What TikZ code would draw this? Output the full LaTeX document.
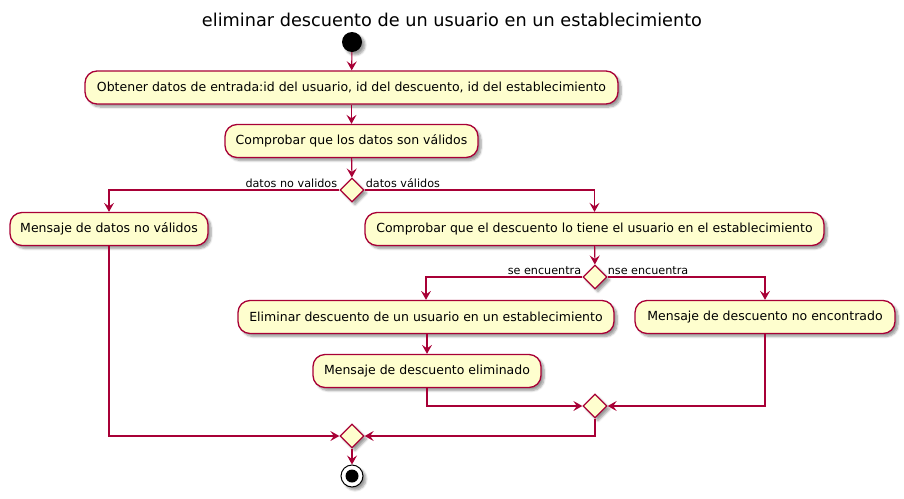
\documentclass[tikz,border=0pt]{standalone}
\usepackage{fontspec}
\setmainfont{DejaVu Sans}
\usetikzlibrary{shapes.geometric,arrows.meta,shadows.blur}
\definecolor{pfill}{HTML}{FEFECE}
\definecolor{pline}{HTML}{A80036}
\begin{document}
\begin{tikzpicture}[x=1pt,y=-1pt,
  shad/.style={blur shadow={shadow xshift=3pt,shadow yshift=-3pt,shadow blur steps=6,shadow opacity=40}},
  act/.style={draw=pline,fill=pfill,line width=1.3pt,rounded corners=12pt,minimum height=33pt,
     inner sep=0pt,align=center,font=\fontsize{12.5}{14}\selectfont,shad},
  dec/.style={diamond,draw=pline,fill=pfill,line width=1.3pt,minimum width=24pt,minimum height=24pt,
     inner sep=0pt,shad},
  flow/.style={draw=pline,line width=1.1pt,-{Stealth[length=9pt,width=10pt,inset=3.5pt]}},
  lbl/.style={font=\fontsize{11.2}{13}\selectfont,inner sep=0pt}]
\useasboundingbox (0,0) rectangle (904,498);
\node[font=\fontsize{17.7}{20}\selectfont] (title) at (452,19.5) {eliminar descuento de un usuario en un establecimiento};
\node[circle,fill=black,minimum size=20pt,inner sep=0pt,shad] (start) at (352,42) {};
\node[act,minimum width=533pt] (b1) at (351.5,87.5) {Obtener datos de entrada:id del usuario, id del descuento, id del establecimiento};
\node[act,minimum width=253pt] (b2) at (351.5,141) {Comprobar que los datos son válidos};
\node[dec] (d1) at (352,190) {};
\node[act,minimum width=198pt] (b3) at (109,229) {Mensaje de datos no válidos};
\node[act,minimum width=459pt] (b4) at (594.5,229) {Comprobar que el descuento lo tiene el usuario en el establecimiento};
\node[dec] (d2) at (595,277) {};
\node[act,minimum width=376pt] (b5) at (426,317) {Eliminar descuento de un usuario en un establecimiento};
\node[act,minimum width=260pt] (b6) at (765,317) {Mensaje de descuento no encontrado};
\node[act,minimum width=228pt] (b7) at (427,371) {Mensaje de descuento eliminado};
\node[dec] (m2) at (595,406) {};
\node[dec] (m1) at (352,436) {};
\node[circle,draw=black,line width=1pt,fill=white,minimum size=22pt,inner sep=0pt,shad,
  path picture={\fill[black] (path picture bounding box.center) circle (6.5pt);}] (end) at (352,476) {};
\draw[flow] (start) -- (b1);
\draw[flow] (b1) -- (b2);
\draw[flow] (b2) -- (d1);
\draw[flow] (d1.west) -| (b3.north);
\draw[flow] (d1.east) -| (b4.north);
\node[lbl,anchor=base east] (l1) at ([xshift=-2pt,yshift=3pt]d1.west) {datos no validos};
\node[lbl,anchor=base west] (l2) at ([xshift=1pt,yshift=3pt]d1.east) {datos válidos};
\draw[flow] (b4) -- (d2);
\draw[flow] (d2.west) -| (b5.north);
\draw[flow] (d2.east) -| (b6.north);
\node[lbl,anchor=base east] (l3) at ([xshift=-1pt,yshift=3pt]d2.west) {se encuentra};
\node[lbl,anchor=base west] (l4) at ([xshift=0pt,yshift=3pt]d2.east) {nse encuentra};
\draw[flow] (b5.south -| b7.north) -- (b7.north);
\draw[flow] (b7.south) |- (m2.west);
\draw[flow] (b6.south) |- (m2.east);
\draw[flow] (m2.south) |- (m1.east);
\draw[flow] (b3.south) |- (m1.west);
\draw[flow] (m1) -- (end);
\end{tikzpicture}
\end{document}
